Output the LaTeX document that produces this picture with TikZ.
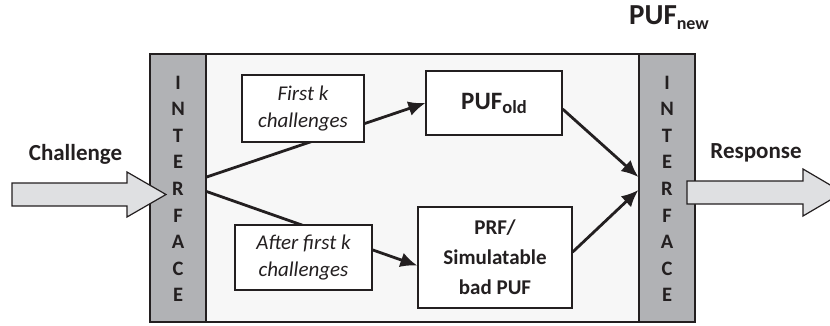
\documentclass[tikz,border=0pt]{standalone}
\usepackage{fontspec}
\setmainfont{Carlito}
\usetikzlibrary{arrows.meta}

\definecolor{stripgray}{HTML}{B1B2B5}
\definecolor{panel}{HTML}{F7F7F7}
\definecolor{blockgray}{HTML}{DFE0E2}
\definecolor{ink}{HTML}{231F20}

\begin{document}
\begin{tikzpicture}[x=1pt, y=-1pt]
		\tikzstyle{Panel} = [rectangle, minimum width=545pt, minimum height=268pt, draw=ink, line width=1.6pt, fill=panel, inner sep=0]
		\tikzstyle{Strip} = [rectangle, minimum width=56pt, minimum height=268pt, draw=ink, line width=1.2pt, fill=stripgray, inner sep=0]
		\tikzstyle{Letter} = [inner sep=0, text=ink, font=\fontsize{20.5}{24}\selectfont\bfseries]
		\tikzstyle{Note} = [rectangle, draw=ink, line width=1.2pt, fill=white, align=center, text=ink, font=\fontsize{21}{27}\selectfont\itshape]
		\tikzstyle{Block} = [rectangle, draw=ink, line width=1.2pt, fill=white, align=center, text=ink, font=\fontsize{21}{30}\selectfont\bfseries]
		\tikzstyle{Label} = [text=ink, font=\fontsize{23}{28}\selectfont\bfseries]
		\tikzstyle{arrow} = [draw=ink, line width=2.8pt, -{Latex[length=17pt, width=15pt]}]
		\tikzstyle{BigArrow} = [draw=ink, line width=1.2pt, fill=blockgray]
		
		\useasboundingbox (0,0) rectangle (830,325);
		
		\node (puf) [Panel] at (422.5,188) {};
		\node (lif) [Strip] at (178,188) {};
		\node (rif) [Strip] at (667,188) {};
		\foreach \ch [count=\i] in {I,N,T,E,R,F,A,C,E} {
			\node (li\i) [Letter] at (178, 82.5+26.6*\i-26.6) {\ch};
			\node (ri\i) [Letter] at (667, 82.5+26.6*\i-26.6) {\ch};
		}
		
		\node (pufnew) [Label] at (669,18) {{\fontsize{29}{34}\selectfont PUF}\raisebox{-5pt}{\fontsize{18}{20}\selectfont new}};
		
		\node (pufold) [Block, minimum width=136pt, minimum height=64pt, inner sep=0] at (494,103) {{\fontsize{25}{30}\selectfont PUF}\raisebox{-4pt}{\fontsize{18.5}{20}\selectfont old}};
		\node (prf) [Block, minimum width=154pt, minimum height=101pt, inner sep=0] at (495,257.5) {PRF/\\Simulatable\\bad PUF};
		
		\draw [arrow] (lif.21) -- (pufold.west);
		\draw [arrow] (lif.-7) -- (prf.186);
		\draw [arrow] (pufold.-5) -- (rif.159);
		\draw [arrow] (prf.4) -- (rif.184);
		
		\node (first) [Note, minimum width=122pt, minimum height=67pt, inner sep=0] at (303,108.5) {First k\\challenges};
		\node (after) [Note, minimum width=137pt, minimum height=65pt, inner sep=0] at (303.5,257.5) {After first k\\challenges};
		
		\draw [BigArrow] (12,183) -- (127,183) -- (127,172) -- (166,194.5) -- (127,217) -- (127,206) -- (12,206) -- cycle;
		\draw [BigArrow] (687,181) -- (803,181) -- (803,169) -- (843,192.5) -- (803,216) -- (803,204) -- (687,204) -- cycle;
		\node (chal) [Label] at (75.5,154) {Challenge};
		\node (resp) [Label] at (756,153) {Response};
\end{tikzpicture}
\end{document}
